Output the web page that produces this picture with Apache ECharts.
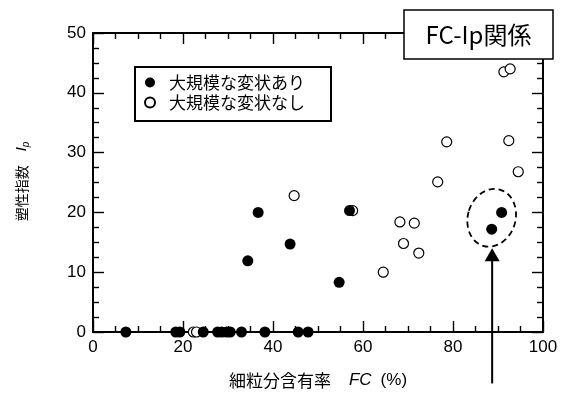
<!DOCTYPE html>
<html>
<head>
<meta charset="utf-8">
<script src="https://cdn.jsdelivr.net/npm/echarts@6/dist/echarts.min.js"></script>
<style>
    html, body { margin: 0; padding: 0; background: #fff; }
    #main { width: 563px; height: 394px; }
</style>
</head>
<body>
<div id="main"></div>
<script>
// 大規模な変状あり (FC, Ip)
const withDamage = [
    [7.3, 0], [18.4, 0], [19.3, 0], [24.5, 0], [27.7, 0], [28.6, 0], [29.7, 0], [30.5, 0],
    [33.0, 0], [38.2, 0], [45.6, 0], [47.8, 0],
    [34.4, 11.9], [36.7, 20.0], [43.8, 14.7], [54.7, 8.3], [57.0, 20.3],
    [88.6, 17.2], [90.8, 20.0]
];
// 大規模な変状なし (FC, Ip)
const noDamage = [
    [22.3, 0], [23.0, 0], [44.7, 22.8], [57.7, 20.3], [64.5, 10.0], [68.2, 18.4],
    [69.0, 14.8], [71.4, 18.2], [72.4, 13.2], [76.6, 25.1], [78.6, 31.8],
    [91.3, 43.5], [92.7, 44.0], [92.4, 32.0], [94.5, 26.8]
];
const seriesNames = ['大規模な変状あり', '大規模な変状なし'];
const xTicks = [0, 20, 40, 60, 80, 100];
const yTicks = [0, 10, 20, 30, 40, 50];

// 注記（破線の楕円と矢印）の位置、データ座標
const circled = [88.6, 19.1];
const arrowFrom = [88.7, -8.6];
const arrowTip = [88.7, 14.0];

const jpFont = '"Noto Sans CJK JP", sans-serif';
const numFont = '"Liberation Sans", Arial, sans-serif';

const chart = echarts.init(document.getElementById('main'));

// 軸の共通設定（目盛りは内向き）
const axisBase = () => ({
    type: 'value',
    axisLine: { show: true, onZero: false, lineStyle: { color: '#000', width: 2 } },
    axisTick: { show: true, inside: true, length: 11, lineStyle: { color: '#000', width: 1.4 } },
    minorTick: { show: true, splitNumber: 4, length: 6, lineStyle: { color: '#000', width: 1.4 } },
    splitLine: { show: false }
});

const option = {
    animation: false,
    grid: { left: 93, right: 20, top: 33, bottom: 53 },
    legend: {
        left: 135,
        top: 67,
        orient: 'vertical',
        data: seriesNames,
        itemWidth: 28,
        itemHeight: 10,
        itemGap: 3,
        padding: [7, 26, 10, 9],
        borderColor: '#000',
        borderWidth: 2,
        backgroundColor: '#fff',
        textStyle: { fontSize: 17, lineHeight: 17, color: '#000', fontFamily: jpFont }
    },
    xAxis: [
        Object.assign(axisBase(), {
            min: xTicks[0],
            max: xTicks[xTicks.length - 1],
            interval: xTicks[1] - xTicks[0],
            axisLabel: { fontSize: 17, color: '#000', fontFamily: numFont, margin: 7 },
            name: '{a|細粒分含有率}{g|}{b|FC}{h|}{c|(%)}',
            nameLocation: 'middle',
            nameGap: 40,
            nameTextStyle: {
                rich: {
                    a: { fontSize: 17, fontFamily: jpFont, color: '#000' },
                    g: { width: 18 },
                    b: { fontSize: 17, fontFamily: numFont, fontStyle: 'italic', color: '#000' },
                    h: { width: 9 },
                    c: { fontSize: 17, fontFamily: numFont, color: '#000' }
                }
            }
        }),
        Object.assign(axisBase(), {
            position: 'top',
            min: xTicks[0],
            max: xTicks[xTicks.length - 1],
            interval: xTicks[1] - xTicks[0],
            axisLabel: { show: false }
        })
    ],
    yAxis: [
        Object.assign(axisBase(), {
            min: yTicks[0],
            max: yTicks[yTicks.length - 1],
            interval: yTicks[1] - yTicks[0],
            axisLabel: { fontSize: 17, color: '#000', fontFamily: numFont, margin: 7 },
            name: '{a|塑性指数}{g|}{i|I}{s|p}',
            nameLocation: 'middle',
            nameRotate: 90,
            nameGap: 62,
            nameTextStyle: {
                padding: [0, 0, 0, 2],
                rich: {
                    a: { fontSize: 14, fontFamily: jpFont, color: '#000', lineHeight: 18 },
                    g: { width: 14 },
                    i: { fontSize: 15, fontFamily: numFont, fontStyle: 'italic', color: '#000', lineHeight: 18 },
                    s: { fontSize: 10, fontFamily: numFont, fontStyle: 'italic', color: '#000', verticalAlign: 'bottom', lineHeight: 10 }
                }
            }
        }),
        Object.assign(axisBase(), {
            position: 'right',
            min: yTicks[0],
            max: yTicks[yTicks.length - 1],
            interval: yTicks[1] - yTicks[0],
            axisLabel: { show: false }
        })
    ],
    series: [
        {
            name: seriesNames[1],
            type: 'scatter',
            clip: false,
            symbol: 'circle',
            symbolSize: 10,
            itemStyle: { color: '#fff', borderColor: '#000', borderWidth: 1.2, opacity: 1 },
            data: noDamage
        },
        {
            name: seriesNames[0],
            type: 'scatter',
            clip: false,
            symbol: 'circle',
            symbolSize: 11,
            itemStyle: { color: '#000', opacity: 1 },
            data: withDamage
        }
    ]
};

chart.setOption(option);

// 注記をデータ座標から描く
const toPx = (p) => chart.convertToPixel({ xAxisIndex: 0, yAxisIndex: 0 }, p);
const c = toPx(circled);
const rx = toPx([circled[0] + 5.3, circled[1]])[0] - c[0];
const ry = c[1] - toPx([circled[0], circled[1] + 4.9])[1];
const a0 = toPx(arrowFrom);
const a1 = toPx(arrowTip);

chart.setOption({
    graphic: [
        {
            type: 'ellipse',
            x: c[0],
            y: c[1],
            rotation: -0.3,
            shape: { cx: 0, cy: 0, rx: rx, ry: ry },
            style: { fill: 'none', stroke: '#000', lineWidth: 1.8, lineDash: [6, 4] },
            z: 50
        },
        {
            type: 'line',
            shape: { x1: a0[0], y1: a0[1], x2: a1[0], y2: a1[1] + 12 },
            style: { stroke: '#000', lineWidth: 2 },
            z: 50
        },
        {
            type: 'polygon',
            shape: { points: [[a1[0], a1[1]], [a1[0] - 7.5, a1[1] + 13], [a1[0] + 7.5, a1[1] + 13]] },
            style: { fill: '#000' },
            z: 50
        },
        // タイトルの枠（軸より手前）
        {
            type: 'rect',
            x: 404,
            y: 10,
            z: 100,
            shape: { x: 0, y: 0, width: 149, height: 49 },
            style: { fill: '#fff', stroke: '#000', lineWidth: 1.5 }
        },
        {
            type: 'text',
            x: 478.5,
            y: 35,
            z: 101,
            style: {
                text: 'FC-Ip関係',
                fill: '#000',
                font: '24px "Noto Sans CJK JP", sans-serif',
                textAlign: 'center',
                textVerticalAlign: 'middle'
            }
        }
    ]
});

window.addEventListener('resize', function () {
    chart.resize();
});
</script>
</body>
</html>
